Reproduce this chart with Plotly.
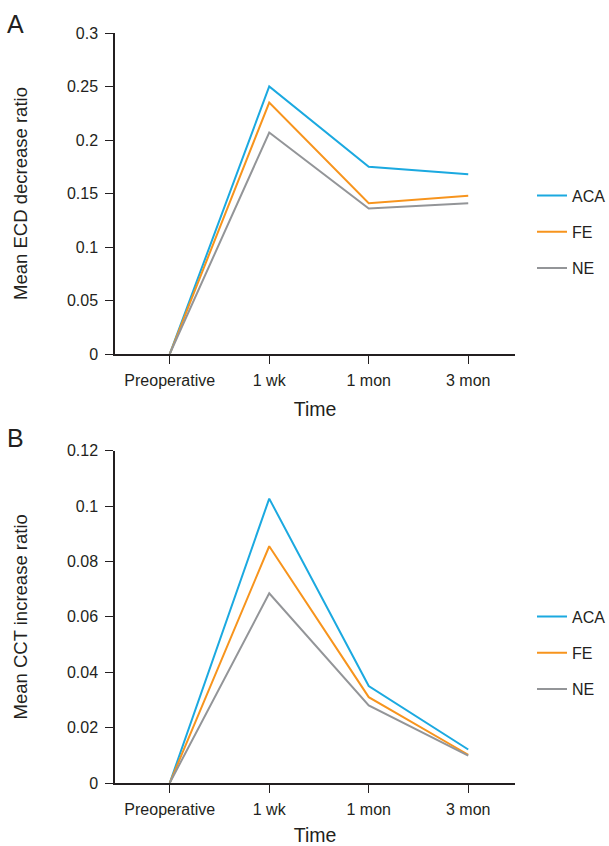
import plotly.graph_objects as go

categories = ["Preoperative", "1 wk", "1 mon", "3 mon"]
groups = ["ACA", "FE", "NE"]
colors = {"ACA": "#1ba9e0", "FE": "#f7941d", "NE": "#939598"}

ecd_aca = [0.0, 0.250, 0.175, 0.168]
ecd_fe = [0.0, 0.235, 0.141, 0.148]
ecd_ne = [0.0, 0.207, 0.136, 0.141]

cct_aca = [0.0, 0.1027, 0.0350, 0.0121]
cct_fe = [0.0, 0.0855, 0.0310, 0.0102]
cct_ne = [0.0, 0.0685, 0.0280, 0.0099]

ecd_ticks = [0, 0.05, 0.1, 0.15, 0.2, 0.25, 0.3]
ecd_ticktext = ["0", "0.05", "0.1", "0.15", "0.2", "0.25", "0.3"]
cct_ticks = [0, 0.02, 0.04, 0.06, 0.08, 0.1, 0.12]
cct_ticktext = ["0", "0.02", "0.04", "0.06", "0.08", "0.1", "0.12"]

W, H = 609, 846
FONT = "Liberation Sans, Arial, Helvetica, sans-serif"
INK = "#231f20"
xpos = list(range(len(categories)))

fig = go.Figure()
panelA = {"ACA": ecd_aca, "FE": ecd_fe, "NE": ecd_ne}
panelB = {"ACA": cct_aca, "FE": cct_fe, "NE": cct_ne}
for g in groups:
    fig.add_trace(go.Scatter(x=xpos, y=panelA[g], mode="lines", name=g,
                             line=dict(color=colors[g], width=2),
                             xaxis="x", yaxis="y", legend="legend",
                             legendgroup="A" + g))
for g in groups:
    fig.add_trace(go.Scatter(x=xpos, y=panelB[g], mode="lines", name=g,
                             line=dict(color=colors[g], width=2),
                             xaxis="x2", yaxis="y2", legend="legend2",
                             legendgroup="B" + g))

xl, xr = 115 / W, 515 / W

def ydom(top_px, bot_px):
    return [1 - bot_px / H, 1 - top_px / H]

common_x = dict(tickmode="array", tickvals=xpos, ticktext=categories,
                range=[-0.55, 3.47], showline=True, linecolor=INK,
                linewidth=1.5, ticks="outside", ticklen=8, tickcolor=INK,
                tickwidth=1.2, showgrid=False, zeroline=False, automargin=False,
                ticklabelstandoff=3,
                tickfont=dict(size=16, color=INK, family=FONT),
                title=dict(text="Time", font=dict(size=19.5, color=INK, family=FONT),
                           standoff=14))
common_y = dict(showline=True, linecolor=INK, linewidth=1.5,
                ticks="outside", ticklen=8, tickcolor=INK, tickwidth=1.2,
                showgrid=False, zeroline=False, tickmode="array", automargin=False,
                ticklabelstandoff=4,
                tickfont=dict(size=16, color=INK, family=FONT))

fig.update_layout(
    width=W, height=H,
    margin=dict(l=0, r=0, t=0, b=0, autoexpand=False),
    paper_bgcolor="white", plot_bgcolor="white",
    font=dict(family=FONT, color=INK),
    xaxis=dict(domain=[xl, xr], anchor="y", **common_x),
    yaxis=dict(domain=ydom(33, 354), anchor="x", range=[0, 0.3],
               tickvals=ecd_ticks, ticktext=ecd_ticktext,
               title=dict(text="Mean ECD decrease ratio",
                          font=dict(size=18.5, color=INK, family=FONT), standoff=34),
               **common_y),
    xaxis2=dict(domain=[xl, xr], anchor="y2", **common_x),
    yaxis2=dict(domain=ydom(450.7, 783), anchor="x2", range=[0, 0.12],
                tickvals=cct_ticks, ticktext=cct_ticktext,
                title=dict(text="Mean CCT increase ratio",
                           font=dict(size=18.5, color=INK, family=FONT), standoff=34),
                **common_y),
    legend=dict(x=532 / W, y=1 - 232 / H, xanchor="left", yanchor="middle",
                tracegroupgap=12.5, font=dict(size=16, color=INK, family=FONT),
                bgcolor="rgba(0,0,0,0)"),
    legend2=dict(x=532 / W, y=1 - 653 / H, xanchor="left", yanchor="middle",
                 tracegroupgap=12.5, font=dict(size=16, color=INK, family=FONT),
                 bgcolor="rgba(0,0,0,0)"),
    annotations=[
        dict(text="A", x=5 / W, y=1 - 24 / H, xref="paper", yref="paper",
             xanchor="left", yanchor="middle", showarrow=False,
             font=dict(size=25, color=INK, family=FONT)),
        dict(text="B", x=5 / W, y=1 - 437.5 / H, xref="paper", yref="paper",
             xanchor="left", yanchor="middle", showarrow=False,
             font=dict(size=25, color=INK, family=FONT)),
    ],
)

fig.write_html("out.html", config={"displayModeBar": False},
               post_script="document.body.style.margin='0';document.body.style.padding='0';")
